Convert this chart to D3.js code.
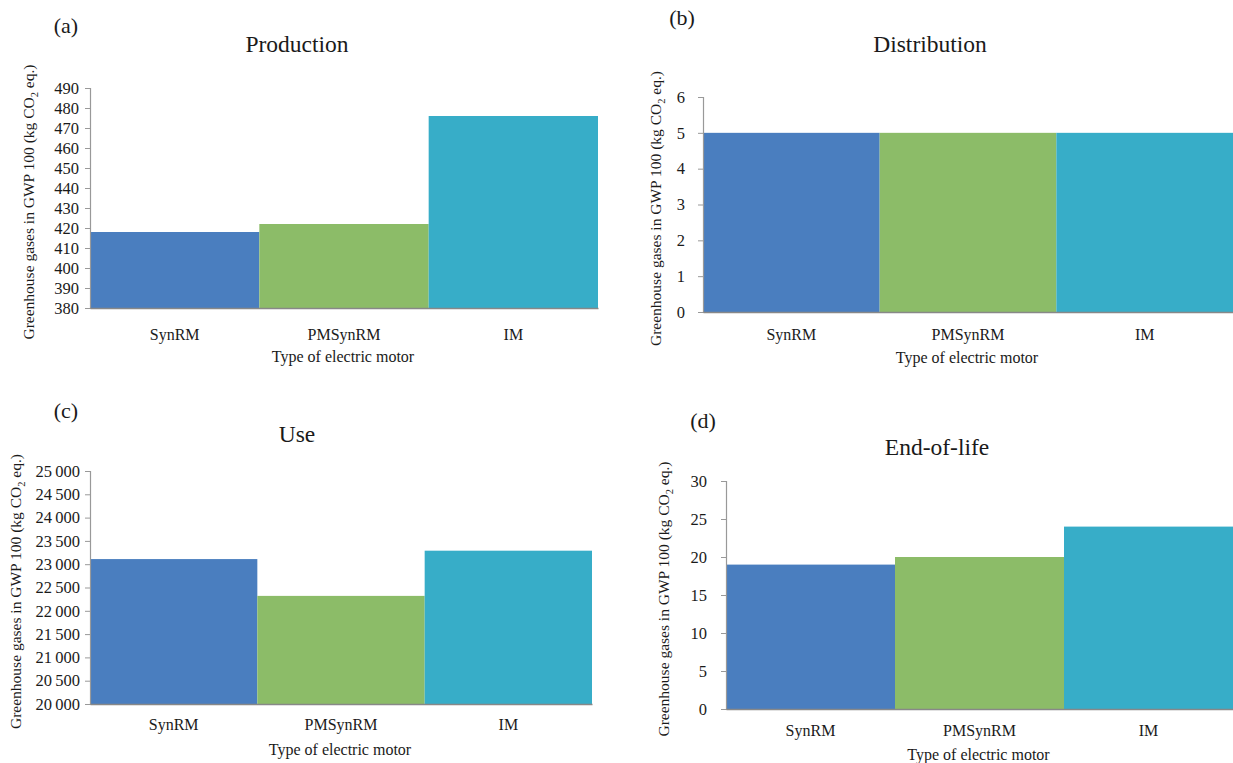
<!DOCTYPE html>
<html>
<head>
<meta charset="utf-8">
<script src="https://cdn.jsdelivr.net/npm/d3@7"></script>
</head>
<body style="margin:0;padding:0;background:#fff">
<svg id="chart" width="1233" height="763" font-family="Liberation Serif" style="font-family:'Liberation Serif'"></svg>
<script>
// ---- data ----
const categories = ["SynRM", "PMSynRM", "IM"];
const colors = ["#4a7ebf", "#8cbc68", "#37adc8"];

const productionValues = [418, 422, 476];
const distributionValues = [5, 5, 5];
const useValues = [23110, 22320, 23290];
const endOfLifeValues = [19, 20, 24];

const productionTicks = [380, 390, 400, 410, 420, 430, 440, 450, 460, 470, 480, 490];
const distributionTicks = [0, 1, 2, 3, 4, 5, 6];
const useTicks = [20000, 20500, 21000, 21500, 22000, 22500, 23000, 23500, 24000, 24500, 25000];
const endOfLifeTicks = [0, 5, 10, 15, 20, 25, 30];

const panelLetters = ["(a)", "(b)", "(c)", "(d)"];
const panelTitles = ["Production", "Distribution", "Use", "End-of-life"];
const xAxisTitle = "Type of electric motor";

const FONT = "Liberation Serif";
const TXT = "#1a1a1a";

// ---- layout ----
const svg = d3.select("#chart");
const panels = [
  { values: productionValues, ticks: productionTicks, letter: panelLetters[0], title: panelTitles[0],
    x0: 90, x1: 598, yTop: 88, yBot: 308, letterPos: [66, 33], titlePos: [297, 52], pad: 6,
    yTitleX: 34, catY: 340, xTitleY: 362, fmt: d => d },
  { values: distributionValues, ticks: distributionTicks, letter: panelLetters[1], title: panelTitles[1],
    x0: 703, x1: 1233, yTop: 97, yBot: 312, letterPos: [682, 25], titlePos: [930, 52], pad: 13,
    yTitleX: 661, catY: 340, xTitleY: 363, fmt: d => d },
  { values: useValues, ticks: useTicks, letter: panelLetters[2], title: panelTitles[2],
    x0: 90, x1: 592, yTop: 471, yBot: 704, letterPos: [66, 418], titlePos: [297, 442], pad: 5,
    yTitleX: 21, catY: 730, xTitleY: 755, fmt: d => d3.format(",")(d).replace(",", "\u2009") },
  { values: endOfLifeValues, ticks: endOfLifeTicks, letter: panelLetters[3], title: panelTitles[3],
    x0: 726, x1: 1233, yTop: 481, yBot: 709, letterPos: [703, 428], titlePos: [937, 455], pad: 14,
    yTitleX: 669, catY: 736, xTitleY: 760, fmt: d => d }
];

function serifText(sel, size) {
  return sel.attr("font-family", FONT).style("font-family", FONT).attr("font-size", size).attr("fill", TXT);
}

panels.forEach(p => {
  const g = svg.append("g");
  const x = d3.scaleBand().domain(categories).range([p.x0, p.x1]).padding(0);
  const y = d3.scaleLinear().domain([p.ticks[0], p.ticks[p.ticks.length - 1]]).range([p.yBot, p.yTop]);

  // bars
  g.selectAll("rect.bar")
    .data(categories.map((c, i) => ({ c, v: p.values[i], col: colors[i] })))
    .join("rect")
    .attr("class", "bar")
    .attr("x", d => x(d.c))
    .attr("width", x.bandwidth())
    .attr("y", d => y(d.v))
    .attr("height", d => y(p.ticks[0]) - y(d.v))
    .attr("fill", d => d.col);

  // y axis
  const yAxis = d3.axisLeft(y).tickValues(p.ticks).tickSize(5).tickPadding(p.pad).tickFormat(p.fmt);
  const ya = g.append("g").attr("transform", `translate(${p.x0},0)`).call(yAxis);
  ya.attr("font-family", FONT);
  ya.select(".domain").attr("stroke", "#999").attr("stroke-width", 1.2);
  ya.selectAll(".tick line").attr("stroke", "#999");
  serifText(ya.selectAll(".tick text"), 16.5);

  // x axis baseline
  const xAxis = d3.axisBottom(x).tickSize(0).tickPadding(0);
  const xa = g.append("g").attr("transform", `translate(0,${p.yBot})`).call(xAxis);
  xa.attr("font-family", FONT);
  xa.select(".domain").attr("stroke", "#888").attr("stroke-width", 1.5);
  serifText(xa.selectAll(".tick text").attr("y", p.catY - p.yBot).attr("dy", 0), 16);

  // x axis title
  serifText(g.append("text")
    .attr("x", (p.x0 + p.x1) / 2 - 1)
    .attr("y", p.xTitleY)
    .attr("text-anchor", "middle"), 16)
    .text(xAxisTitle);

  // panel title
  serifText(g.append("text")
    .attr("x", p.titlePos[0]).attr("y", p.titlePos[1])
    .attr("text-anchor", "middle"), 23.5)
    .text(p.title);

  // panel letter
  serifText(g.append("text")
    .attr("x", p.letterPos[0]).attr("y", p.letterPos[1])
    .attr("text-anchor", "middle"), 22)
    .text(p.letter);

  // y axis title
  const yt = serifText(g.append("text")
    .attr("transform", `translate(${p.yTitleX},${(p.yTop + p.yBot) / 2 + 4}) rotate(-90)`)
    .attr("text-anchor", "middle"), 15.5);
  yt.append("tspan").text("Greenhouse gases in GWP 100 (kg CO");
  yt.append("tspan").attr("font-size", 10.5).attr("dy", 4).text("2");
  yt.append("tspan").attr("dy", -4).text(" eq.)");
});
</script>
</body>
</html>
